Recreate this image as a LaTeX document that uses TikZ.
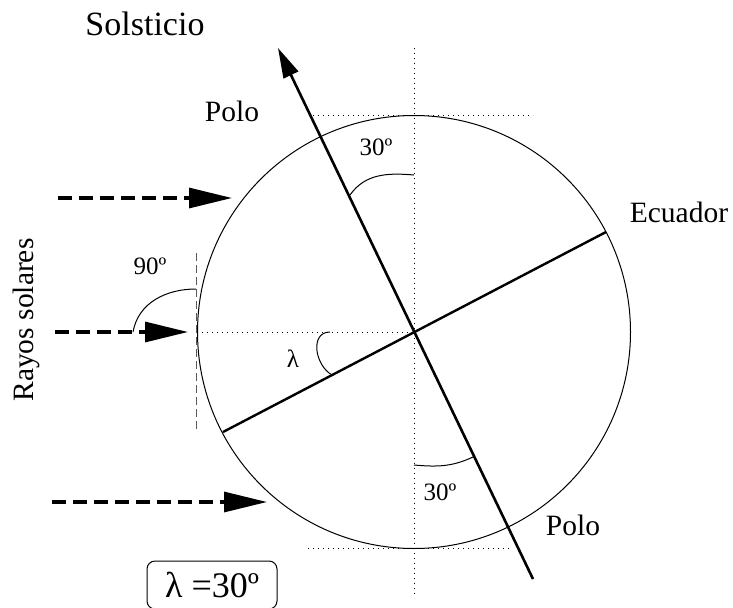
\documentclass[tikz,border=0pt]{standalone}
\usepackage{fontspec}
\setmainfont{Liberation Serif}
\usetikzlibrary{arrows.meta,positioning}

\begin{document}
\begin{tikzpicture}[
    x=0.5pt, y=0.5pt,
    lbl/.style={font=\fontsize{14.75}{16}\selectfont, inner sep=0pt},
    ang/.style={font=\fontsize{12.5}{14}\selectfont, inner sep=0pt},
    guide/.style={dotted, line width=0.5pt},
    ray/.style={dash pattern=on 7pt off 3.5pt, line width=1.6pt, -{Triangle[length=21.5pt, width=10pt]}},
    axisline/.style={line width=1.3pt},
    arcline/.style={line width=0.5pt}
]
\useasboundingbox (0,0) rectangle (733,607);
% globe and reference lines
\coordinate (O) at (414,275);
\draw[line width=0.5pt] (O) circle[radius=216.5];
\coordinate (vtop) at (414,559);
\coordinate (vbot) at (414,9);
\draw[guide] (vtop) -- (vbot);
\draw[guide] (313,492) -- (533,492);
\draw[guide] (308,59) -- (510,59);
\coordinate (west) at (197,275);
\draw[guide] (west) -- (O);
\draw[dash pattern=on 4pt off 2pt, line width=0.5pt, black!65] (196,354) -- (196,177);
% axis and equator
\coordinate (npole) at (278,559);
\coordinate (spole) at (533,28);
\draw[axisline, -{Triangle[length=15pt, width=8pt]}] (spole) -- (npole);
\coordinate (eqw) at (223,175);
\coordinate (eqe) at (606,375);
\draw[line width=1.2pt] (eqw) -- (eqe);
% sun rays
\foreach \n/\a/\b/\y in {r1/58/232/409, r2/55/188/275, r3/52/267/105} {
    \coordinate (\n s) at (\a,\y);
    \coordinate (\n e) at (\b,\y);
    \draw[ray] (\n s) -- (\n e);
}
% angle arcs
\coordinate (a1) at (350,412);
\coordinate (v1) at (414,432);
\draw[arcline] (a1) to[out=55, in=175] (v1);
\coordinate (v2) at (414,142);
\coordinate (a2) at (473,150);
\draw[arcline] (v2) to[out=-5, in=205] (a2);
\coordinate (l1) at (330,275);
\coordinate (l2) at (332,232);
\draw[arcline] (l1) to[out=180, in=150, looseness=1.2] (l2);
\coordinate (t1) at (196,318);
\draw[arcline] (r2s) ++(78,0) coordinate (k1) (k1) to[out=80, in=180] (t1);
% labels
\node[font=\fontsize{17}{19}\selectfont, inner sep=0pt] (title) at (145,583) {Solsticio};
\node[lbl] (ptop) at (232,496) {Polo};
\node[ang] (atop) at (376,460) {30º};
\node[lbl] (ecu) at (679,395) {Ecuador};
\node[lbl, rotate=90] (rays) at (26,287) {Rayos solares};
\node[ang] (a90) at (150,341) {90º};
\node[ang] (lam) at (293,248) {λ};
\node[ang] (abot) at (440,115) {30º};
\node[lbl] (pbot) at (573,82) {Polo};
\node[draw, rounded corners=4pt, line width=0.5pt, minimum width=65pt, minimum height=24pt,
      font=\fontsize{18}{20}\selectfont] (box) at (212,22) {λ =30º};
\end{tikzpicture}
\end{document}
